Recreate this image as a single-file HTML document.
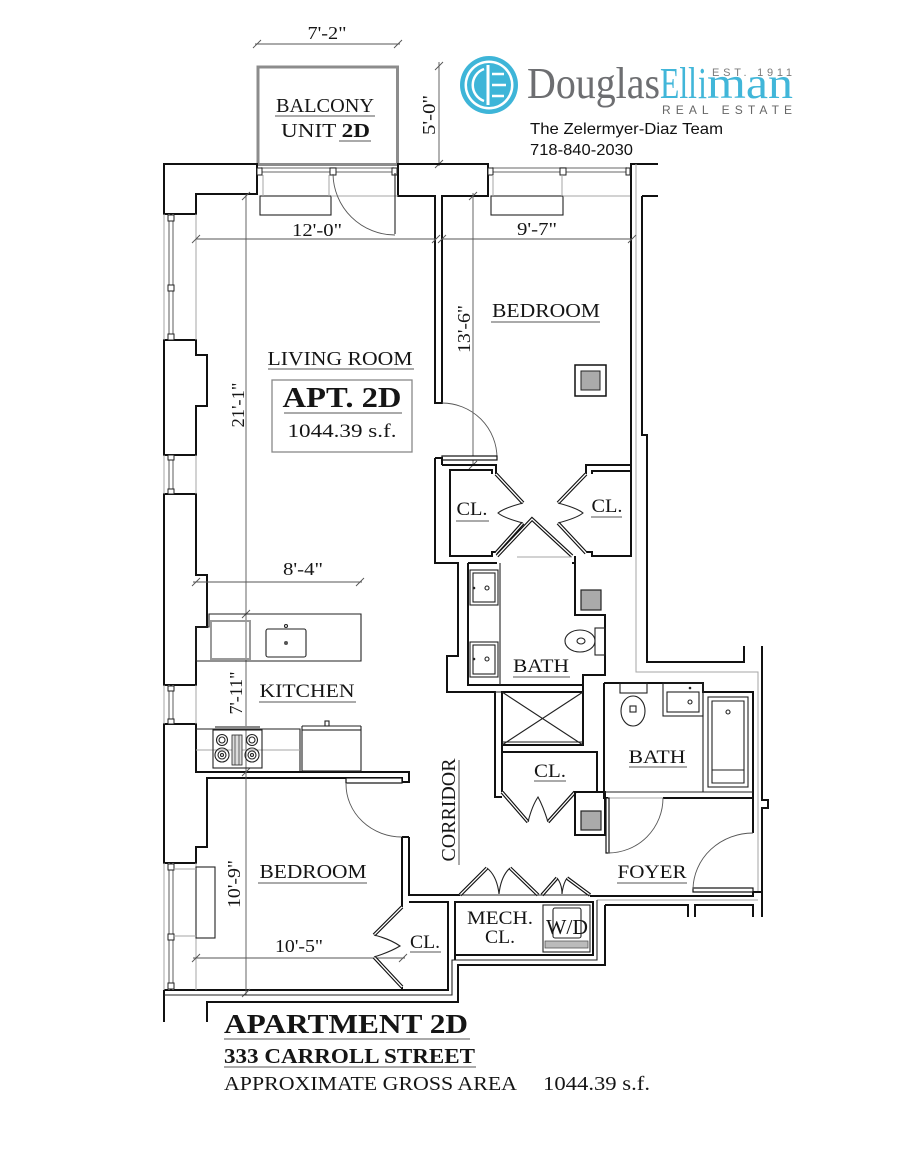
<!DOCTYPE html>
<html><head><meta charset="utf-8"><style>
html,body{margin:0;padding:0;background:#fff;}
svg{display:block}
.w{stroke:#111;stroke-width:2;fill:none;stroke-linejoin:miter}
.t{stroke:#222;stroke-width:1.1;fill:none}
.g{stroke:#a5a5a5;stroke-width:1;fill:none}
.g2{stroke:#9a9a9a;stroke-width:1.6;fill:none}
.d{stroke:#555;stroke-width:0.9;fill:none}
.s{font-family:"Liberation Serif",serif;fill:#151515}
.u{stroke:#555;stroke-width:1;fill:none}
.db{stroke:#111;stroke-width:3.6;fill:none}
.dw{stroke:#fff;stroke-width:1.3;fill:none}
</style></head><body>
<svg width="900" height="1165" viewBox="0 0 900 1165" xmlns="http://www.w3.org/2000/svg">
<rect width="900" height="1165" fill="#fff"/>

<!-- ===== LOGO ===== -->
<circle cx="489" cy="85" r="29" fill="#3eb5d8"/>
<circle cx="489" cy="85" r="24.5" fill="#fff"/>
<circle cx="489" cy="85" r="22" fill="#3eb5d8"/>
<path d="M488,65 V105" stroke="#fff" stroke-width="3"/>
<path d="M484,69 A17,17 0 0,0 484,101" stroke="#fff" stroke-width="2.5" fill="none"/>
<path d="M492,74 H504 M492,85 H506 M492,96 H504" stroke="#fff" stroke-width="2.5"/>
<text x="527" y="98" font-family="Liberation Serif,serif" font-size="44" fill="#6d6e71" textLength="133" lengthAdjust="spacingAndGlyphs">Douglas</text>
<text x="660" y="98" font-family="Liberation Serif,serif" font-size="44" fill="#41b6d9" textLength="37" lengthAdjust="spacingAndGlyphs">Ell</text>
<text x="698" y="98" font-family="Liberation Serif,serif" font-size="44" fill="#41b6d9" textLength="9" lengthAdjust="spacingAndGlyphs">i</text>
<text x="707" y="98" font-family="Liberation Serif,serif" font-size="44" fill="#41b6d9" textLength="86" lengthAdjust="spacingAndGlyphs">man</text>
<text x="712" y="76" font-family="Liberation Sans,sans-serif" font-size="11" fill="#7a7a7a" textLength="80" lengthAdjust="spacing">EST. 1911</text>
<text x="662" y="114" font-family="Liberation Sans,sans-serif" font-size="12" fill="#666" textLength="130" lengthAdjust="spacing">REAL ESTATE</text>
<text x="530" y="134" font-family="Liberation Sans,sans-serif" font-size="16" fill="#111" textLength="193" lengthAdjust="spacingAndGlyphs">The Zelermyer-Diaz Team</text>
<text x="530" y="155" font-family="Liberation Sans,sans-serif" font-size="16" fill="#111" textLength="103" lengthAdjust="spacingAndGlyphs">718-840-2030</text>

<!-- ===== BALCONY ===== -->
<rect x="258" y="67" width="139.5" height="97.5" fill="none" stroke="#8c8c8c" stroke-width="3"/>
<text class="s" x="325" y="112" font-size="20" text-anchor="middle" textLength="98" lengthAdjust="spacingAndGlyphs">BALCONY</text>
<line class="u" x1="275" y1="116" x2="375" y2="116"/>
<text class="s" x="281" y="137" font-size="20" textLength="89" lengthAdjust="spacingAndGlyphs">UNIT <tspan font-weight="bold">2D</tspan></text>
<line class="u" x1="339" y1="141" x2="371" y2="141"/>

<!-- dims top -->
<line class="d" x1="255" y1="44" x2="400" y2="44"/>
<path class="d" d="M253,48 L261,40 M394,48 L402,40"/>
<text class="s" x="327" y="39" font-size="18" text-anchor="middle" textLength="39" lengthAdjust="spacingAndGlyphs">7'-2&quot;</text>
<line class="d" x1="439" y1="62" x2="439" y2="166"/>
<path class="d" d="M435,70 L443,62 M435,168 L443,160"/>
<text class="s" transform="translate(435,115) rotate(-90)" font-size="18" text-anchor="middle" textLength="40" lengthAdjust="spacingAndGlyphs">5'-0&quot;</text>

<!-- ===== EXTERIOR WALLS ===== -->
<path class="w" d="M164,164 H257 V194 H196 V214 H164 Z"/>
<path class="w" d="M398,164 H488 V196 H442 V403 H435 V196 H398 Z"/>
<path class="w" d="M630,164 H658 M642,196 H658 M631,164 V557"/>
<path class="w" d="M642,196 V435 H647 V662 H744 V646"/>
<path class="w" d="M762,646 V800 H768 V808 H762 V917"/>
<path class="g" d="M636,164 V672 H758 V893"/>
<path class="w" d="M164,340 H196 V355 H207 V406 H196 V455 H164 Z"/>
<path class="w" d="M164,494 H196 V575 H207 V627 H196 V685 H164 Z"/>
<path class="w" d="M164,724 H196 V772 H409 V782 H402 V778 H207 V847 H196 V863 H164 Z"/>
<path class="w" d="M164,990 H402 M164,990 V1022"/>

<!-- left windows -->
<path class="g2" d="M169,214 V340 M173,214 V340 M169,455 V494 M173,455 V494 M169,685 V724 M173,685 V724 M169,863 V990 M173,863 V990"/>
<path class="g" d="M164,214 V340 M164,455 V494 M164,685 V724 M164,863 V990 M196,214 V340 M196,455 V494 M196,685 V724 M196,863 V990"/>
<g fill="#fff" stroke="#222" stroke-width="1">
<rect x="168" y="215" width="6" height="6"/><rect x="168" y="285" width="6" height="6"/><rect x="168" y="334" width="6" height="6"/>
<rect x="168" y="455" width="6" height="5"/><rect x="168" y="489" width="6" height="5"/>
<rect x="168" y="686" width="6" height="5"/><rect x="168" y="719" width="6" height="5"/>
<rect x="168" y="864" width="6" height="6"/><rect x="168" y="934" width="6" height="6"/><rect x="168" y="983" width="6" height="6"/>
</g>
<rect class="t" x="196" y="867" width="19" height="71"/>
<path class="g" d="M173,869 H196 M173,936 H196"/>

<!-- top windows -->
<path class="g2" d="M261,168 H394 M261,172 H394 M492,168 H627 M492,172 H627"/>
<g fill="#fff" stroke="#222" stroke-width="1">
<rect x="257" y="168" width="5" height="7"/><rect x="330" y="168" width="6" height="7"/><rect x="392" y="168" width="5" height="7"/>
<rect x="488" y="168" width="5" height="7"/><rect x="560" y="168" width="6" height="7"/><rect x="626" y="168" width="4" height="7"/>
</g>
<rect class="t" x="260" y="196" width="71" height="19"/>
<rect class="t" x="491" y="196" width="72" height="19"/>
<path class="g" d="M263,175 V196 M329,175 V196 M331,196 H398 M493,175 V196 M562,175 V196 M563,196 H630"/>

<!-- balcony door -->
<path class="t" d="M395,173 V234"/>
<path class="d" d="M333,174 A62,62 0 0,0 395,235"/>

<!-- top dims -->
<line class="d" x1="196" y1="239" x2="436" y2="239"/>
<line class="d" x1="442" y1="239" x2="632" y2="239"/>
<path class="d" d="M192,243 L200,235 M432,243 L440,235 M438,243 L446,235 M628,243 L636,235"/>
<text class="s" x="317" y="236" font-size="18" text-anchor="middle" textLength="50" lengthAdjust="spacingAndGlyphs">12'-0&quot;</text>
<text class="s" x="537" y="235" font-size="18" text-anchor="middle" textLength="40" lengthAdjust="spacingAndGlyphs">9'-7&quot;</text>

<!-- 21'-1 / 7'-11 / 10'-9 vertical dim -->
<line class="d" x1="246" y1="194" x2="246" y2="995"/>
<path class="d" d="M242,200 L250,192 M242,618 L250,610 M242,776 L250,768 M242,997 L250,989"/>
<text class="s" transform="translate(244,405) rotate(-90)" font-size="18" text-anchor="middle" textLength="45" lengthAdjust="spacingAndGlyphs">21'-1&quot;</text>
<text class="s" transform="translate(242,693) rotate(-90)" font-size="18" text-anchor="middle" textLength="43" lengthAdjust="spacingAndGlyphs">7'-11&quot;</text>
<text class="s" transform="translate(240,884) rotate(-90)" font-size="18" text-anchor="middle" textLength="48" lengthAdjust="spacingAndGlyphs">10'-9&quot;</text>

<!-- 13'-6 -->
<line class="d" x1="473" y1="193" x2="473" y2="466"/>
<path class="d" d="M469,200 L477,192 M469,469 L477,461"/>
<text class="s" transform="translate(470,329) rotate(-90)" font-size="18" text-anchor="middle" textLength="48" lengthAdjust="spacingAndGlyphs">13'-6&quot;</text>

<!-- 8'-4 -->
<line class="d" x1="193" y1="582" x2="362" y2="582"/>
<path class="d" d="M192,586 L200,578 M356,586 L364,578"/>
<text class="s" x="303" y="575" font-size="18" text-anchor="middle" textLength="40" lengthAdjust="spacingAndGlyphs">8'-4&quot;</text>

<!-- 10'-5 -->
<line class="d" x1="193" y1="958" x2="405" y2="958"/>
<path class="d" d="M192,962 L200,954 M399,962 L407,954"/>
<text class="s" x="299" y="952" font-size="18" text-anchor="middle" textLength="48" lengthAdjust="spacingAndGlyphs">10'-5&quot;</text>

<!-- ===== LIVING ROOM ===== -->
<text class="s" x="340" y="365" font-size="20" text-anchor="middle" textLength="145" lengthAdjust="spacingAndGlyphs">LIVING ROOM</text>
<line class="u" x1="268" y1="369" x2="414" y2="369"/>
<rect x="272" y="380" width="140" height="72" fill="none" stroke="#888" stroke-width="1.3"/>
<text class="s" x="342" y="407" font-size="28" font-weight="bold" text-anchor="middle" textLength="119" lengthAdjust="spacingAndGlyphs">APT. 2D</text>
<line class="u" x1="284" y1="413" x2="402" y2="413"/>
<text class="s" x="342" y="437" font-size="19" text-anchor="middle" textLength="109" lengthAdjust="spacingAndGlyphs">1044.39 s.f.</text>

<!-- ===== BEDROOM TOP ===== -->
<text class="s" x="546" y="317" font-size="20" text-anchor="middle" textLength="108" lengthAdjust="spacingAndGlyphs">BEDROOM</text>
<line class="u" x1="491" y1="322" x2="600" y2="322"/>
<rect x="575" y="365" width="31" height="31" fill="#fff" stroke="#111" stroke-width="1.5"/>
<rect x="581" y="371" width="19" height="19" fill="#aaa" stroke="#222" stroke-width="1"/>

<!-- bedroom door -->
<path class="d" d="M442,403 A55,55 0 0,1 497,458"/>
<rect x="442" y="456" width="55" height="4" fill="#fff" stroke="#111" stroke-width="1.2"/>

<!-- living/bath partition -->
<path class="w" d="M435,458 V563 H458 V656 H447 V692 H495 V797 H502"/>
<path class="w" d="M435,458 H442 V465"/>

<!-- closets -->
<path class="w" d="M442,465 H496 V474"/>
<path class="w" d="M492,474 V470 H450 V556 H492 V552 H496"/>
<path class="w" d="M586,474 V465 H631"/>
<path class="w" d="M592,474 V471 H631"/>
<path class="w" d="M631,556 H592 V552 H586"/>
<path class="db" d="M496,474 L523,503 M523,523 L496,553 M586,474 L558,503 M558,523 L586,553 M497,556 L532,519 L572,556"/>
<path class="dw" d="M496,474 L523,503 M523,523 L496,553 M586,474 L558,503 M558,523 L586,553 M497,556 L532,519 L572,556"/>
<path class="t" d="M523,503 Q504,508 498,513 Q504,518 523,523 M558,503 Q577,508 583,513 Q577,518 558,523"/>
<path class="g" d="M517,557 H572"/>
<text class="s" x="472" y="515" font-size="19" text-anchor="middle" textLength="31" lengthAdjust="spacingAndGlyphs">CL.</text>
<line class="u" x1="456" y1="521" x2="489" y2="521"/>
<text class="s" x="607" y="512" font-size="19" text-anchor="middle" textLength="31" lengthAdjust="spacingAndGlyphs">CL.</text>
<line class="u" x1="591" y1="517" x2="622" y2="517"/>

<!-- ===== BATH 1 ===== -->
<path class="w" d="M468,563 H497 M572,563 H575"/>
<path class="w" d="M575,556 V615 H605 V675 H583 V745"/>
<path class="w" d="M468,563 V685 H583"/>
<path class="t" d="M495,692 H583"/>
<path class="t" d="M500,563 V685"/>
<rect class="t" x="470" y="570" width="28" height="35"/>
<rect class="t" x="473" y="573" width="22" height="29"/>
<rect class="t" x="470" y="642" width="28" height="35"/>
<rect class="t" x="473" y="645" width="22" height="29"/>
<circle cx="474" cy="588" r="1.3" fill="#222"/><circle cx="487" cy="588" r="2" class="t"/>
<circle cx="474" cy="659" r="1.3" fill="#222"/><circle cx="487" cy="659" r="2" class="t"/>
<rect x="581" y="590" width="20" height="20" fill="#aaa" stroke="#222" stroke-width="1.2"/>
<rect class="t" x="595" y="628" width="10" height="27"/>
<ellipse class="t" cx="580" cy="641" rx="15" ry="11"/>
<ellipse class="t" cx="581" cy="641" rx="4" ry="3"/>
<text class="s" x="541" y="672" font-size="19" text-anchor="middle" textLength="56" lengthAdjust="spacingAndGlyphs">BATH</text>
<line class="u" x1="513" y1="677" x2="570" y2="677"/>

<!-- shower -->
<rect class="w" x="502" y="692" width="81" height="53"/>
<path class="t" d="M502,692 L583,745 M583,692 L502,745 M502,742 H583"/>

<!-- corridor closet -->
<path class="w" d="M502,745 V792 M502,752 H597 V792"/>
<path class="db" d="M502,792 L528,822 M548,822 L575,792"/>
<path class="dw" d="M502,792 L528,822 M548,822 L575,792"/>
<path class="t" d="M528,822 Q532,806 538,797 Q543,806 548,822"/>
<text class="s" x="550" y="777" font-size="19" text-anchor="middle" textLength="32" lengthAdjust="spacingAndGlyphs">CL.</text>
<line class="u" x1="534" y1="781" x2="566" y2="781"/>
<rect class="w" x="575" y="792" width="30" height="43"/>
<rect x="581" y="811" width="20" height="19" fill="#aaa" stroke="#222" stroke-width="1.2"/>

<!-- ===== BATH 2 ===== -->
<path class="w" d="M604,683 H703 V692 H753 V833"/>
<path class="w" d="M604,683 V798 H608"/>
<path class="t" d="M604,792 H753"/>
<path class="w" d="M663,798 H753"/>
<path class="g" d="M608,798 H663"/>
<path class="t" d="M703,692 V792"/>
<rect class="t" x="620" y="683" width="27" height="10"/>
<ellipse class="t" cx="633" cy="711" rx="12" ry="15"/>
<rect class="t" x="630" y="706" width="6" height="6"/>
<rect class="t" x="663" y="683" width="40" height="33"/>
<rect class="t" x="667" y="692" width="32" height="20"/>
<circle cx="690" cy="688" r="1.3" fill="#222"/><circle cx="690" cy="702" r="2" class="t"/>
<rect class="t" x="708" y="697" width="40" height="90"/>
<path class="t" d="M712,701 H744 V783 H712 Z M712,770 H744"/>
<circle cx="728" cy="712" r="2" class="t"/>
<text class="s" x="657" y="763" font-size="19" text-anchor="middle" textLength="57" lengthAdjust="spacingAndGlyphs">BATH</text>
<line class="u" x1="629" y1="767" x2="687" y2="767"/>
<!-- bath2 door -->
<rect x="606" y="798" width="3" height="55" fill="#fff" stroke="#111" stroke-width="1.2"/>
<path class="d" d="M608,853 A55,55 0 0,0 663,798"/>

<!-- ===== FOYER ===== -->
<path class="w" d="M590,896 H753 V892 H762"/>
<path class="g" d="M597,900 H758"/>
<rect x="693" y="888" width="60" height="4" fill="#fff" stroke="#111" stroke-width="1.2"/>
<path class="d" d="M693,889 A60,57 0 0,1 753,833"/>
<text class="s" x="652" y="878" font-size="19" text-anchor="middle" textLength="69" lengthAdjust="spacingAndGlyphs">FOYER</text>
<line class="u" x1="617" y1="883" x2="687" y2="883"/>
<path class="w" d="M605,905 H688 V917 M695,917 V905 H753 V917"/>

<!-- ===== KITCHEN ===== -->
<path class="t" d="M209,614 H361 V661 H196 V627 H209 Z"/>
<rect x="211" y="621" width="39" height="38" fill="none" stroke="#9a9a9a" stroke-width="2"/>
<rect class="t" x="266" y="629" width="40" height="28" rx="2"/>
<circle cx="286" cy="643" r="2" fill="#555"/>
<circle cx="286" cy="626" r="1.5" class="t"/>
<text class="s" x="307" y="697" font-size="19" text-anchor="middle" textLength="95" lengthAdjust="spacingAndGlyphs">KITCHEN</text>
<line class="u" x1="259" y1="702" x2="356" y2="702"/>
<path class="t" d="M196,729 H300 V771"/>
<path class="g" d="M196,750 H300"/>
<rect x="215" y="726" width="45" height="3" fill="#888"/>
<rect class="t" x="213" y="730" width="49" height="38"/>
<g class="t">
<circle cx="222" cy="740" r="5.5"/><circle cx="222" cy="740" r="3"/>
<circle cx="252" cy="740" r="5.5"/><circle cx="252" cy="740" r="3"/>
<circle cx="222" cy="755" r="7"/><circle cx="222" cy="755" r="4"/><circle cx="222" cy="755" r="1.5"/>
<circle cx="252" cy="755" r="7"/><circle cx="252" cy="755" r="4"/><circle cx="252" cy="755" r="1.5"/>
</g>
<rect x="232" y="735" width="10" height="30" fill="#ddd" stroke="#222" stroke-width="0.8"/>
<path d="M235,735 V765 M239,735 V765" stroke="#444" stroke-width="0.8"/>
<rect class="t" x="302" y="730" width="59" height="41"/>
<path class="t" d="M302,726 H361 M302,730 H361 M302,726 V730 M361,726 V730"/>
<rect class="t" x="325" y="721" width="4" height="5"/>

<!-- ===== BEDROOM 2 ===== -->
<rect x="346" y="778" width="56" height="5" fill="#fff" stroke="#111" stroke-width="1.2"/>
<path class="d" d="M346,784 A56,53 0 0,0 402,837"/>
<path class="w" d="M402,837 V907 M409,837 V895 H460 M402,837 H409"/>
<path class="w" d="M402,987 V990 H448 V902 H409"/>
<path class="w" d="M455,902 V960"/>
<path class="db" d="M402,907 L374,935 M374,957 L402,987"/>
<path class="dw" d="M402,907 L374,935 M374,957 L402,987"/>
<path class="t" d="M374,935 Q390,939 400,946 Q390,952 374,957"/>
<text class="s" x="313" y="878" font-size="20" text-anchor="middle" textLength="107" lengthAdjust="spacingAndGlyphs">BEDROOM</text>
<line class="u" x1="258" y1="883" x2="367" y2="883"/>
<text class="s" x="425" y="948" font-size="19" text-anchor="middle" textLength="30" lengthAdjust="spacingAndGlyphs">CL.</text>
<line class="u" x1="410" y1="952" x2="441" y2="952"/>

<!-- corridor label -->
<text class="s" transform="translate(455,810) rotate(-90)" font-size="20" text-anchor="middle" textLength="103" lengthAdjust="spacingAndGlyphs">CORRIDOR</text>
<line class="u" x1="459" y1="760" x2="459" y2="865"/>

<!-- ===== MECH ===== -->
<rect class="w" x="455" y="902" width="138" height="53"/>
<path class="db" d="M460,895 L487,868 M510,868 L538,895 M542,895 L557,878 M567,878 L590,895"/>
<path class="dw" d="M460,895 L487,868 M510,868 L538,895 M542,895 L557,878 M567,878 L590,895"/>
<path class="t" d="M487,868 Q497,876 499,894 Q501,876 510,868 M557,878 Q562,884 562,894 Q563,884 567,878"/>
<path class="t" d="M460,895 H590"/>
<rect class="t" x="543" y="905" width="47" height="47"/>
<rect class="t" x="553" y="908" width="28" height="30" rx="2"/>
<rect x="545" y="941" width="43" height="7" fill="#bbb" stroke="#555" stroke-width="0.8"/>
<text class="s" x="500" y="924" font-size="19" text-anchor="middle" textLength="66" lengthAdjust="spacingAndGlyphs">MECH.</text>
<text class="s" x="500" y="943" font-size="19" text-anchor="middle" textLength="30" lengthAdjust="spacingAndGlyphs">CL.</text>
<text class="s" x="567" y="934" font-size="21" text-anchor="middle" textLength="42" lengthAdjust="spacingAndGlyphs">W/D</text>

<!-- bottom exterior lines -->
<path class="t" d="M597,900 V960 H452 V995 H164"/>
<path class="w" d="M605,905 V965 H458 V1002 H207 V1022"/>

<!-- ===== TITLE ===== -->
<text class="s" x="224" y="1033" font-size="27" font-weight="bold" textLength="244" lengthAdjust="spacingAndGlyphs">APARTMENT 2D</text>
<line class="u" x1="224" y1="1039" x2="470" y2="1039"/>
<text class="s" x="224" y="1063" font-size="21" font-weight="bold" textLength="251" lengthAdjust="spacingAndGlyphs">333 CARROLL STREET</text>
<line class="u" x1="224" y1="1067" x2="476" y2="1067"/>
<text class="s" x="224" y="1090" font-size="20" textLength="293" lengthAdjust="spacingAndGlyphs">APPROXIMATE GROSS AREA</text>
<text class="s" x="543" y="1090" font-size="20" textLength="107" lengthAdjust="spacingAndGlyphs">1044.39 s.f.</text>
</svg>
</body></html>
